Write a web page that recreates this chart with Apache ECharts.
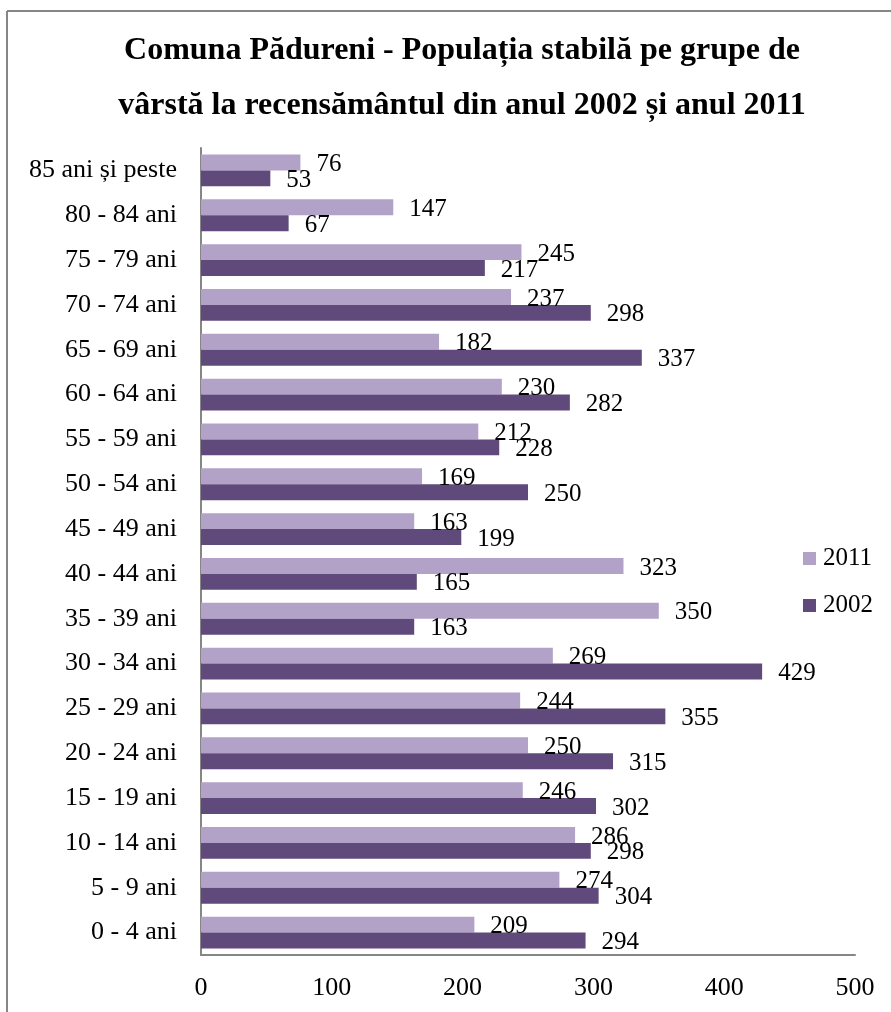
<!DOCTYPE html>
<html>
<head>
<meta charset="utf-8">
<script src="https://cdn.jsdelivr.net/npm/echarts@6/dist/echarts.min.js"></script>
<style>
  html, body { margin: 0; padding: 0; background: #fff; }
  #chart { width: 891px; height: 1012px; }
</style>
</head>
<body>
<div id="chart"></div>
<script>
// age groups, bottom to top
const categories = [
  '0 - 4 ani', '5 - 9 ani', '10 - 14 ani', '15 - 19 ani', '20 - 24 ani',
  '25 - 29 ani', '30 - 34 ani', '35 - 39 ani', '40 - 44 ani', '45 - 49 ani',
  '50 - 54 ani', '55 - 59 ani', '60 - 64 ani', '65 - 69 ani', '70 - 74 ani',
  '75 - 79 ani', '80 - 84 ani', '85 ani și peste'
];
const values2011 = [209, 274, 286, 246, 250, 244, 269, 350, 323, 163, 169, 212, 230, 182, 237, 245, 147, 76];
const values2002 = [294, 304, 298, 302, 315, 355, 429, 163, 165, 199, 250, 228, 282, 337, 298, 217, 67, 53];
const xTicks = [0, 100, 200, 300, 400, 500];

const serif = 'Liberation Serif, Times New Roman, serif';
const chart = echarts.init(document.getElementById('chart'));

const labelStyle = {
  show: true,
  position: 'right',
  distance: 16,
  offset: [0, 2],
  color: '#000',
  fontFamily: serif,
  fontSize: 25
};

chart.setOption({
  animation: false,
  backgroundColor: '#fff',
  title: {
    text: 'Comuna Pădureni - Populația stabilă pe grupe de\nvârstă la recensământul din anul 2002 și anul 2011',
    left: 457,
    top: 18,
    textAlign: 'center',
    textStyle: {
      fontFamily: serif,
      fontWeight: 'bold',
      fontSize: 32,
      lineHeight: 55,
      color: '#000'
    }
  },
  legend: {
    data: ['2011', '2002'],
    orient: 'vertical',
    left: 803,
    top: 546,
    padding: 0,
    itemWidth: 13,
    itemHeight: 13,
    itemGap: 22,
    textStyle: { fontFamily: serif, fontSize: 25, color: '#000', padding: [0, 0, 0, 2] },
    icon: 'rect'
  },
  grid: { left: 201, right: 36, top: 148, bottom: 57, containLabel: false },
  xAxis: {
    type: 'value',
    min: 0,
    max: 500,
    interval: 100,
    axisLine: { show: true, lineStyle: { color: '#868686', width: 2 } },
    axisTick: { show: false },
    splitLine: { show: false },
    axisLabel: {
      margin: 20,
      color: '#000',
      fontFamily: serif,
      fontSize: 26,
      formatter: v => xTicks.includes(v) ? String(v) : ''
    }
  },
  yAxis: {
    type: 'category',
    data: categories,
    axisLine: { show: true, lineStyle: { color: '#868686', width: 2 } },
    axisTick: { show: false },
    axisLabel: { margin: 24, color: '#000', fontFamily: serif, fontSize: 26 }
  },
  series: [
    {
      name: '2011',
      type: 'bar',
      data: values2011,
      barCategoryGap: '29%',
      barGap: '0%',
      itemStyle: { color: '#B3A2C7' },
      label: labelStyle
    },
    {
      name: '2002',
      type: 'bar',
      data: values2002,
      barCategoryGap: '29%',
      barGap: '0%',
      itemStyle: { color: '#604A7B' },
      label: labelStyle
    }
  ],
  graphic: [
    { type: 'line', shape: { x1: 7, y1: 11, x2: 891, y2: 11 }, style: { stroke: '#868686', lineWidth: 2 } },
    { type: 'line', shape: { x1: 7, y1: 11, x2: 7, y2: 1012 }, style: { stroke: '#868686', lineWidth: 2 } }
  ]
});
</script>
</body>
</html>
